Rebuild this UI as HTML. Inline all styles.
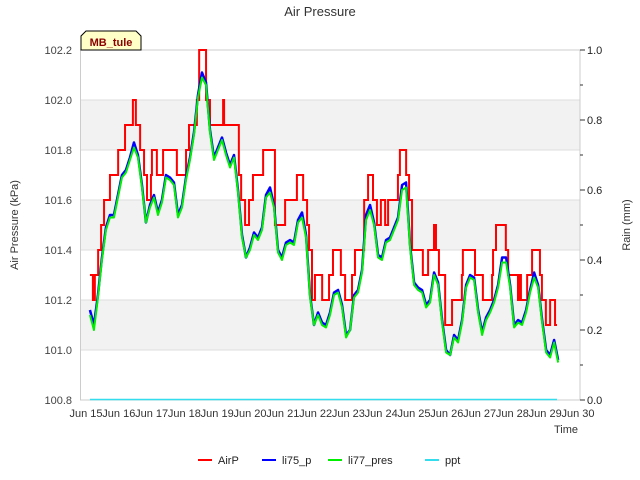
<!DOCTYPE html>
<html><head><meta charset="utf-8"><style>
body{margin:0;background:#fff;}
svg{display:block;font-family:"Liberation Sans","DejaVu Sans",sans-serif;}
</style></head><body>
<svg id="chart" width="640" height="480" viewBox="0 0 640 480">
<text x="320" y="16" text-anchor="middle" font-size="13" fill="#333">Air Pressure</text>
<g id="bands"></g>
<g id="grid"></g>
<rect x="80.5" y="50" width="499.5" height="350" fill="none" stroke="#ccc"/>
<g id="series"></g>
<g id="axes"></g>
<text transform="translate(18,225) rotate(-90)" text-anchor="middle" font-size="11" fill="#333">Air Pressure (kPa)</text>
<text transform="translate(630,225) rotate(-90)" text-anchor="middle" font-size="11" fill="#333">Rain (mm)</text>
<text x="578" y="433" text-anchor="end" font-size="11" fill="#333">Time</text>
<g>
<path d="M81,50 L81,36 L86,31 L136,31 L141,36 L141,50 Z" fill="#ffffc8" stroke="#000"/>
<text x="111" y="46" text-anchor="middle" font-size="11" font-weight="bold" fill="#8b0000">MB_tule</text>
</g>
<g id="legend"></g>
</svg>
<script>
const yTicks=[100.8,101.0,101.2,101.4,101.6,101.8,102.0,102.2];
const y2Ticks=[0.0,0.2,0.4,0.6,0.8,1.0];
const xTickDays=[15,16,17,18,19,20,21,22,23,24,25,26,27,28,29,30];
const xTickLabels=["Jun 15","Jun 16","Jun 17","Jun 18","Jun 19","Jun 20","Jun 21","Jun 22","Jun 23","Jun 24","Jun 25","Jun 26","Jun 27","Jun 28","Jun 29","Jun 30"];
const airT=[15.12,15.21,15.27,15.37,15.46,15.55,15.73,15.98,16.19,16.43,16.52,16.65,16.77,16.86,16.98,17.01,17.16,17.35,17.77,18.05,18.14,18.38,18.45,18.66,18.78,19.18,19.21,19.66,19.73,19.85,19.97,20.09,20.40,20.76,21.07,21.43,21.62,21.74,21.80,21.89,21.98,22.20,22.41,22.53,22.77,22.90,23.11,23.20,23.48,23.60,23.75,23.87,23.99,24.12,24.21,24.51,24.57,24.76,24.85,24.94,25.27,25.43,25.61,25.67,25.76,25.95,26.16,26.46,26.49,26.86,27.10,27.38,27.41,27.50,27.80,27.87,28.17,28.23,28.26,28.45,28.60,28.84,28.90,29.02,29.15,29.30,29.36];
const airP=[101.3,101.2,101.3,101.4,101.5,101.6,101.7,101.8,101.9,102.0,101.9,101.8,101.7,101.6,101.7,101.8,101.7,101.8,101.7,101.8,101.9,102.0,102.2,102.0,101.9,102.0,101.9,101.7,101.6,101.5,101.6,101.7,101.8,101.5,101.6,101.7,101.6,101.5,101.4,101.2,101.3,101.2,101.3,101.4,101.3,101.2,101.3,101.4,101.6,101.7,101.6,101.5,101.6,101.5,101.6,101.7,101.8,101.7,101.6,101.4,101.3,101.4,101.5,101.4,101.3,101.1,101.2,101.3,101.4,101.3,101.2,101.3,101.4,101.5,101.4,101.3,101.2,101.3,101.2,101.3,101.4,101.3,101.2,101.1,101.2,101.1,101.1];
const liStart=15.12, liStep=0.122;
const li75=[101.16,101.10,101.22,101.37,101.49,101.54,101.54,101.62,101.70,101.72,101.77,101.83,101.78,101.66,101.51,101.58,101.62,101.55,101.60,101.70,101.69,101.67,101.54,101.58,101.69,101.77,101.87,102.02,102.11,102.07,101.88,101.77,101.81,101.85,101.79,101.74,101.78,101.64,101.46,101.37,101.41,101.47,101.45,101.49,101.62,101.65,101.58,101.40,101.37,101.43,101.44,101.43,101.52,101.55,101.46,101.22,101.10,101.15,101.11,101.10,101.15,101.23,101.24,101.18,101.06,101.08,101.22,101.24,101.32,101.54,101.58,101.51,101.38,101.37,101.44,101.45,101.49,101.53,101.66,101.67,101.42,101.27,101.25,101.24,101.18,101.20,101.31,101.27,101.12,101.00,100.98,101.06,101.04,101.12,101.26,101.30,101.29,101.16,101.07,101.13,101.16,101.20,101.26,101.37,101.37,101.26,101.10,101.12,101.11,101.16,101.24,101.31,101.26,101.12,101.00,100.98,101.04,100.96];
const li77=[101.14,101.08,101.21,101.36,101.48,101.53,101.53,101.61,101.69,101.71,101.76,101.81,101.77,101.65,101.51,101.57,101.61,101.54,101.59,101.69,101.68,101.66,101.53,101.57,101.68,101.76,101.86,102.01,102.09,102.06,101.87,101.76,101.80,101.84,101.78,101.73,101.77,101.63,101.45,101.37,101.40,101.46,101.44,101.48,101.61,101.63,101.57,101.39,101.36,101.42,101.43,101.42,101.51,101.53,101.45,101.21,101.10,101.14,101.10,101.09,101.14,101.22,101.23,101.17,101.05,101.08,101.21,101.23,101.31,101.52,101.56,101.50,101.37,101.36,101.43,101.44,101.48,101.52,101.64,101.65,101.41,101.26,101.24,101.23,101.17,101.19,101.30,101.26,101.11,100.99,100.98,101.05,101.03,101.11,101.25,101.29,101.28,101.15,101.06,101.12,101.15,101.19,101.25,101.35,101.35,101.25,101.09,101.11,101.10,101.15,101.23,101.29,101.25,101.11,100.99,100.97,101.03,100.95];
const pptT=[15.12,29.36];
const ppt=[0,0];

const NS="http://www.w3.org/2000/svg";
const X0=80.5,X1=580,Y0=50,Y1=400;
const xS=d=>86+(d-15)*32.8;
const yS=v=>Y1-(v-100.8)/1.4*(Y1-Y0);
const y2S=v=>Y1-v/1.0*(Y1-Y0);
function mk(tag,attrs,parent){const e=document.createElementNS(NS,tag);for(const k in attrs)e.setAttribute(k,attrs[k]);parent.appendChild(e);return e;}
const bands=document.getElementById('bands'),grid=document.getElementById('grid'),series=document.getElementById('series'),axes=document.getElementById('axes'),legend=document.getElementById('legend');
for(let i=0;i<yTicks.length-1;i++){
  if(i%2===1){const b=mk('rect',{x:X0,y:yS(yTicks[i+1]),width:X1-X0,height:yS(yTicks[i])-yS(yTicks[i+1]),fill:'#f2f2f2'},bands);
  
  }
}
yTicks.forEach(v=>{
  const l=mk('line',{x1:X0,x2:X1,y1:yS(v),y2:yS(v),stroke:'#ddd'},grid);
  
  
  const t=mk('text',{x:72,y:yS(v)+4,'text-anchor':'end','font-size':11,fill:'#444'},axes);
  t.textContent=v.toFixed(1);
  
  
});
y2Ticks.forEach((v,i)=>{
  mk('line',{x1:X1,x2:X1+5,y1:y2S(v),y2:y2S(v),stroke:'#333'},axes);
  if(i<y2Ticks.length-1)mk('line',{x1:X1,x2:X1+3,y1:y2S(v+0.1),y2:y2S(v+0.1),stroke:'#333'},axes);
  const t=mk('text',{x:587,y:y2S(v)+4,'font-size':11,fill:'#222'},axes);
  t.textContent=v.toFixed(1);
  
  
});
xTickDays.forEach((d,i)=>{
  const t=mk('text',{x:xS(d),y:417,'text-anchor':'middle','font-size':11,fill:'#333'},axes);
  t.textContent=xTickLabels[i];
  
  
});
// AirP step line
let dA='';
airT.forEach((t,i)=>{const x=xS(t),y=yS(airP[i]);if(i===0)dA+='M'+x+','+y;else dA+=' L'+x+','+yS(airP[i-1])+' L'+x+','+y;});
const pA=mk('path',{d:dA,fill:'none',stroke:'#ff0000','stroke-width':2},series);


function linePath(arr){return arr.map((v,i)=>(i?'L':'M')+xS(liStart+i*liStep)+','+yS(v)).join(' ');}
const p75=mk('path',{d:linePath(li75),fill:'none',stroke:'#0000ff','stroke-width':2.5,'stroke-linejoin':'round'},series);


const p77=mk('path',{d:linePath(li77),fill:'none',stroke:'#00ee00','stroke-width':2,'stroke-linejoin':'round'},series);


const pp=mk('path',{d:pptT.map((t,i)=>(i?'L':'M')+xS(t)+','+(y2S(ppt[i])-0.5)).join(' '),fill:'none',stroke:'#33ddee','stroke-width':1.5},series);


const leg=[['AirP','#ff0000',198],['li75_p','#0000ff',262],['li77_pres','#00ee00',328],['ppt','#33ddee',425]];
leg.forEach(e=>{
  const g=mk('g',{},legend);
  
  
  mk('line',{x1:e[2],x2:e[2]+14,y1:460,y2:460,stroke:e[1],'stroke-width':2},g);
  const t=mk('text',{x:e[2]+20,y:464,'font-size':11,fill:'#222'},g);
  t.textContent=e[0];
});
</script>
</body></html>
